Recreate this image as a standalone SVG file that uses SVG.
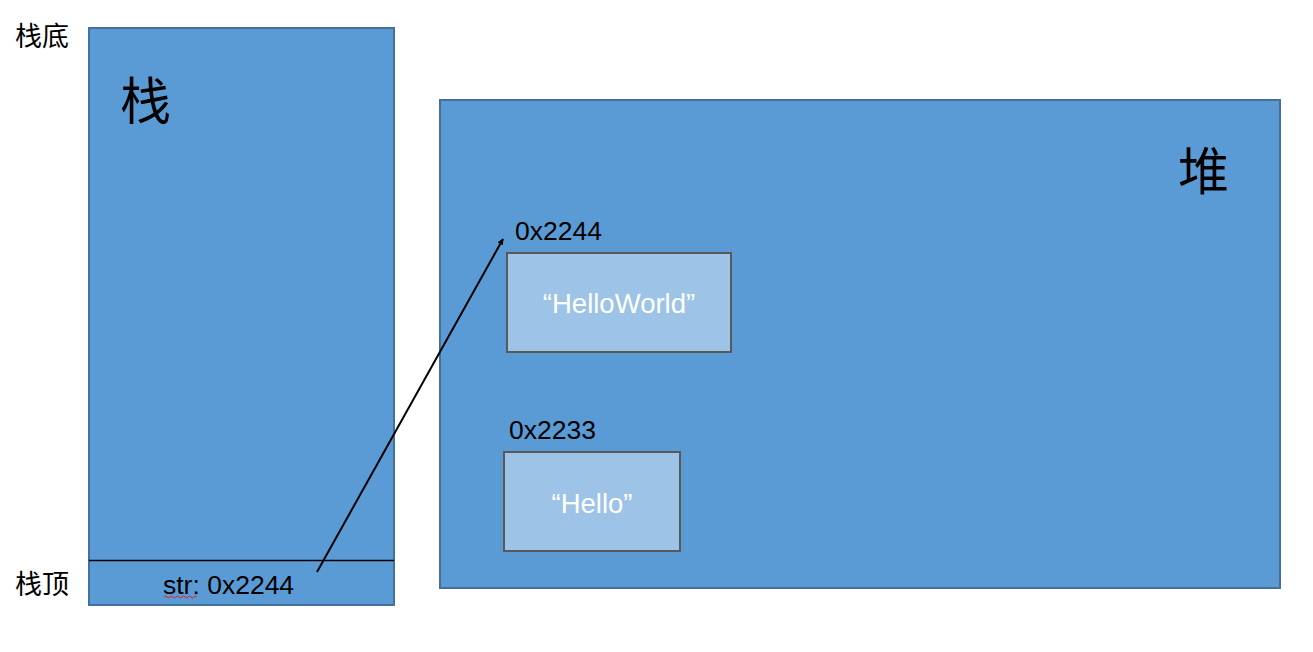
<svg xmlns="http://www.w3.org/2000/svg" width="1313" height="652" viewBox="0 0 1313 652">
<style>
.region{fill:#5B9BD5;stroke:#41719C;stroke-width:2}
.obj{fill:#9DC3E6;stroke:#595959;stroke-width:2}
.cjk{font-family:"Noto Sans CJK SC","Liberation Sans",sans-serif;fill:#000}
.lbl{font-family:"Liberation Sans","Noto Sans CJK SC",sans-serif;font-size:26.5px;fill:#000}
.val{font-family:"Liberation Sans","Noto Sans CJK SC",sans-serif;font-size:27.5px;fill:#fff;text-anchor:middle}
</style>
<defs>
<marker id="ah" viewBox="0 0 10 10" refX="9" refY="5" markerWidth="7" markerHeight="6" orient="auto" markerUnits="userSpaceOnUse">
<path d="M0,0 L10,5 L0,10 z" fill="#000"/>
</marker>
</defs>
<rect width="1313" height="652" fill="#fff"/>
<g id="stack">
<rect class="region" x="89" y="28" width="305" height="577"/>
<line x1="89" y1="560.5" x2="394" y2="560.5" stroke="#000" stroke-width="1.3"/>
<text class="cjk" x="120" y="120" font-size="51">栈</text>
<text class="lbl" x="163" y="594">str: 0x2244</text>
<path d="M164,597 q1.5,-2 3,0 t3,0 t3,0 t3,0 t3,0 t3,0 t3,0 t3,0 t3,0 t3,0 t3,0" fill="none" stroke="#E02020" stroke-width="1"/>
</g>
<g id="stack-bottom-label"><text class="cjk" x="15" y="46" font-size="27">栈底</text></g>
<g id="stack-top-label"><text class="cjk" x="15" y="594" font-size="27">栈顶</text></g>
<g id="heap">
<rect class="region" x="440" y="100" width="840" height="488"/>
<text class="cjk" x="1178" y="190" font-size="51">堆</text>
</g>
<g id="obj-helloworld">
<text class="lbl" x="515" y="240">0x2244</text>
<rect class="obj" x="507" y="253" width="224" height="99"/>
<text class="val" x="619" y="313">“HelloWorld”</text>
</g>
<g id="obj-hello">
<text class="lbl" x="509" y="439">0x2233</text>
<rect class="obj" x="504" y="452" width="176" height="99"/>
<text class="val" x="592" y="513">“Hello”</text>
</g>
<g id="connectors">
<line x1="317" y1="572" x2="503" y2="239" stroke="#000" stroke-width="2" marker-end="url(#ah)"/>
</g>
</svg>
